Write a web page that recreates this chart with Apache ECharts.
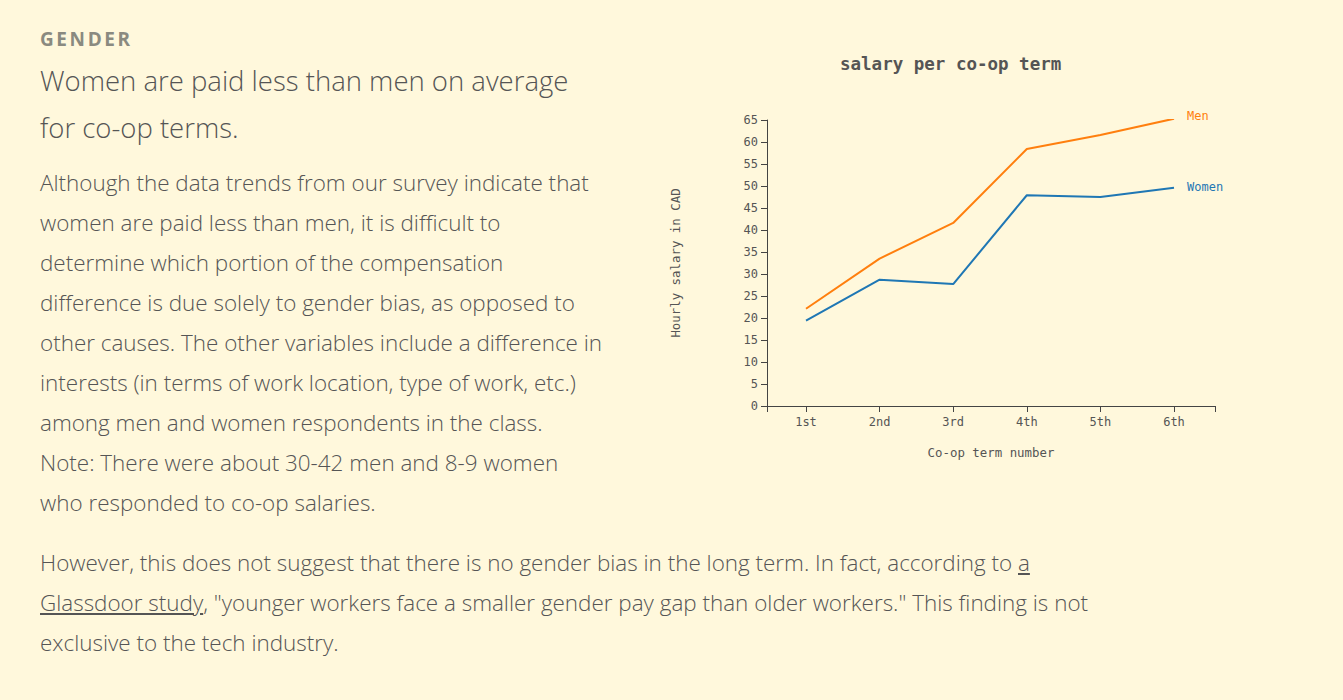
<!DOCTYPE html>
<html>
<head>
<meta charset="utf-8">
<script src="https://cdn.jsdelivr.net/npm/echarts@6/dist/echarts.min.js"></script>
<style>
  html, body { margin:0; padding:0; width:1343px; height:700px; background:#fff8dc; overflow:hidden; }
  body { font-family: "Open Sans", sans-serif; color:#555; }
  .kicker { position:absolute; left:40px; top:27px; font-size:19px; font-weight:700; letter-spacing:2.6px; color:#8a8a80; line-height:24px; }
  .head { position:absolute; left:40px; top:57px; font-size:27.5px; font-weight:300; line-height:47px; white-space:nowrap; }
  .para { position:absolute; left:40px; top:163px; font-size:22.45px; font-weight:300; line-height:40px; white-space:nowrap; }
  .para2 { position:absolute; left:40px; top:543px; font-size:22.45px; font-weight:300; line-height:40px; white-space:nowrap; }
  .para2 a { color:#555; text-decoration:underline; }
  #chart { position:absolute; left:620px; top:0px; width:723px; height:520px; }
</style>
</head>
<body>
<div class="kicker">GENDER</div>
<div class="head">Women are paid less than men on average<br>for co-op terms.</div>
<div class="para">Although the data trends from our survey indicate that<br>women are paid less than men, it is difficult to<br>determine which portion of the compensation<br>difference is due solely to gender bias, as opposed to<br>other causes. The other variables include a difference in<br>interests (in terms of work location, type of work, etc.)<br>among men and women respondents in the class.<br>Note: There were about 30-42 men and 8-9 women<br>who responded to co-op salaries.</div>
<div class="para2">However, this does not suggest that there is no gender bias in the long term. In fact, according to <a>a<br>Glassdoor study</a>, "younger workers face a smaller gender pay gap than older workers." This finding is not<br>exclusive to the tech industry.</div>
<div id="chart"></div>
<script>
const categories = ['1st', '2nd', '3rd', '4th', '5th', '6th'];
const menSalary = [22.1, 33.5, 41.6, 58.4, 61.6, 65.3];
const womenSalary = [19.4, 28.7, 27.7, 47.9, 47.5, 49.6];
const yTicks = [0, 5, 10, 15, 20, 25, 30, 35, 40, 45, 50, 55, 60, 65];

const mono = '"DejaVu Sans Mono", "Liberation Mono", monospace';
const axisColor = '#444';
const labelColor = '#555';
const catPos = categories.map((c, i) => i + 1);
const xMin = 0.47, xMax = 6.557;

const chart = echarts.init(document.getElementById('chart'), null, { renderer: 'svg' });
chart.setOption({
  backgroundColor: 'transparent',
  animation: false,
  title: {
    text: 'salary per co-op term',
    left: 215, top: 50,
    textStyle: { fontFamily: mono, fontSize: 17.5, fontWeight: 'bold', color: '#555' }
  },
  grid: { left: 147, top: 120, width: 448, height: 286, containLabel: false },
  xAxis: {
    type: 'value',
    min: xMin, max: xMax,
    name: 'Co-op term number',
    nameLocation: 'middle',
    nameGap: 40,
    nameTextStyle: { fontFamily: mono, fontSize: 12.4, color: labelColor },
    axisLine: { show: true, lineStyle: { color: axisColor, width: 1 } },
    axisTick: { show: true, length: 6, inside: false, lineStyle: { color: axisColor }, customValues: [xMin].concat(catPos, [xMax]) },
    axisLabel: {
      customValues: catPos,
      margin: 10,
      fontFamily: mono, fontSize: 12, color: labelColor,
      formatter: v => categories[Math.round(v) - 1] || ''
    },
    splitLine: { show: false }
  },
  yAxis: {
    type: 'value',
    min: 0, max: 65, interval: 5,
    name: 'Hourly salary in CAD',
    nameLocation: 'middle',
    nameGap: 86,
    nameRotate: 90,
    nameTextStyle: { fontFamily: mono, fontSize: 12.4, color: labelColor },
    axisLine: { show: true, lineStyle: { color: axisColor, width: 1 } },
    axisTick: { show: true, length: 6, lineStyle: { color: axisColor } },
    axisLabel: { margin: 9, fontFamily: mono, fontSize: 12, color: labelColor,
      customValues: yTicks },
    splitLine: { show: false }
  },
  series: [
    {
      name: 'Men', type: 'line', showSymbol: false, symbol: 'none',
      data: menSalary.map((v, i) => [catPos[i], v]),
      lineStyle: { color: '#ff7f0e', width: 2 },
      itemStyle: { color: '#ff7f0e' },
      endLabel: { show: true, formatter: '{a}', distance: 13, offset: [0, -3], color: '#ff7f0e', fontFamily: mono, fontSize: 12 }
    },
    {
      name: 'Women', type: 'line', showSymbol: false, symbol: 'none',
      data: womenSalary.map((v, i) => [catPos[i], v]),
      lineStyle: { color: '#1f77b4', width: 2 },
      itemStyle: { color: '#1f77b4' },
      endLabel: { show: true, formatter: '{a}', distance: 13, offset: [0, -1], color: '#1f77b4', fontFamily: mono, fontSize: 12 }
    }
  ]
});
</script>
</body>
</html>
